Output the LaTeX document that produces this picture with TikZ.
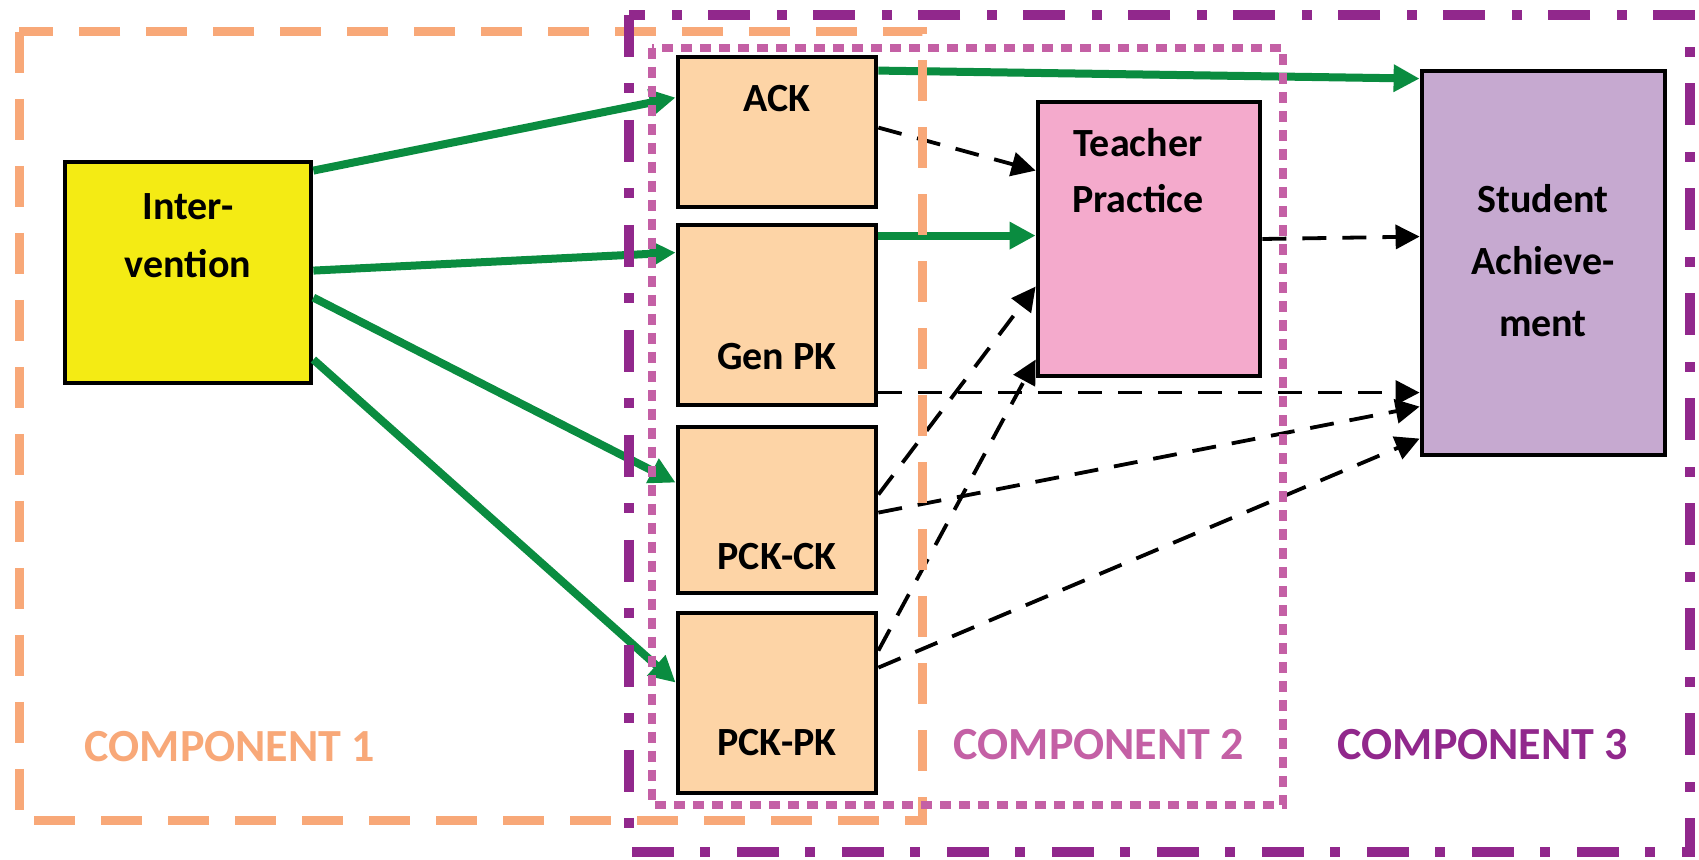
\documentclass[tikz,border=0pt]{standalone}
\usepackage{fontspec}
\setmainfont{Carlito}
\usetikzlibrary{arrows.meta,calc}

\definecolor{orangeC}{RGB}{248,168,120}
\definecolor{purpleC}{RGB}{145,40,140}
\definecolor{pinkC}{RGB}{196,96,165}
\definecolor{yellowC}{RGB}{244,235,20}
\definecolor{peachC}{RGB}{253,212,166}
\definecolor{tpC}{RGB}{244,170,204}
\definecolor{saC}{RGB}{198,169,208}
\definecolor{greenC}{RGB}{10,140,64}

\begin{document}
\begin{tikzpicture}[x=0.5pt,y=-0.5pt,
  box/.style={draw=black, line width=2.4pt, inner sep=0pt, rectangle},
  txt/.style={font=\fontsize{20}{24}\selectfont\bfseries, anchor=base, inner sep=0pt},
  comp/.style={font=\fontsize{23}{27}\selectfont\bfseries, anchor=base, inner sep=0pt},
  greenarrow/.style={draw=greenC, line width=4pt, -{Triangle[length=13pt,width=13pt]}},
  dasharrow/.style={draw=black, line width=1.9pt, dash pattern=on 12pt off 8pt, -{Triangle[length=12pt,width=12pt]}},
  frameone/.style={draw=orangeC, line width=4.5pt, dash pattern=on 20.5pt off 13pt},
  frametwo/.style={draw=pinkC, line width=4pt, dash pattern=on 5.5pt off 4pt},
  framethree/.style={draw=purpleC, line width=5pt, dash pattern=on 21pt off 13pt on 5pt off 13.5pt},
]
\useasboundingbox (0,0) rectangle (1699,860);
\fill[white] (0,0) rectangle (1699,860);

% boxes
\node[box, fill=yellowC, minimum width=123pt, minimum height=110.5pt] (int) at (188,272.5) {};
\node[box, fill=peachC, minimum width=99pt, minimum height=75pt] (ack) at (777,132) {};
\node[box, fill=peachC, minimum width=99pt, minimum height=90pt] (gen) at (777,315) {};
\node[box, fill=peachC, minimum width=99pt, minimum height=83pt] (pckck) at (777,510) {};
\node[box, fill=peachC, minimum width=99pt, minimum height=90pt] (pckpk) at (777,703) {};
\node[box, fill=tpC, minimum width=111pt, minimum height=137pt] (tp) at (1149,239) {};
\node[box, fill=saC, minimum width=121.5pt, minimum height=192pt] (sa) at (1543.5,263) {};

% box labels
\node[txt] (intA) at (188,220) {Inter-};
\node[txt] (intB) at (188,278) {vention};
\node[txt] (ackA) at (777,112) {ACK};
\node[txt] (genA) at (777,370) {Gen PK};
\node[txt] (pckckA) at (777,570) {PCK-CK};
\node[txt] (pckpkA) at (777,756) {PCK-PK};
\node[txt] (tpA) at (1138,157) {Teacher};
\node[txt] (tpB) at (1138,213) {Practice};
\node[txt] (saA) at (1543,213) {Student};
\node[txt] (saB) at (1543,275) {Achieve-};
\node[txt] (saC) at (1543,337) {ment};

% intervention effects
\draw[greenarrow] ($(int.north east)+(0,11)$) -- ($(ack.north west)+(0,43)$);
\draw[greenarrow] ($(int.north east)+(0,111)$) -- ($(gen.north west)+(0,30)$);
\draw[greenarrow] ($(int.north east)+(0,138)$) -- ($(pckck.north west)+(0,58)$);
\draw[greenarrow] ($(int.north east)+(0,200)$) -- ($(pckpk.north west)+(0,72)$);

% knowledge to practice and achievement
\draw[greenarrow] ($(ack.north east)+(0,16)$) -- ($(sa.north west)+(0,10)$);
\draw[dasharrow] ($(ack.north east)+(0,73)$) -- ($(tp.north west)+(0,71)$);
\draw[greenarrow] ($(gen.north east)+(0,13)$) -- ($(tp.north west)+(0,136)$);
\draw[dasharrow] (tp.east) -- ($(sa.north west)+(0,168)$);
\draw[dasharrow] ($(gen.north east)+(0,170)$) -- ($(sa.north west)+(0,324)$);
\draw[dasharrow] ($(pckck.north east)+(0,70)$) -- ($(tp.north west)+(0,187)$);
\draw[dasharrow] ($(pckck.north east)+(0,88)$) -- ($(sa.north west)+(0,338)$);
\draw[dasharrow] ($(pckpk.north east)+(0,40)$) -- ($(tp.north west)+(0,260)$);
\draw[dasharrow] ($(pckpk.north east)+(0,57)$) -- ($(sa.north west)+(0,370)$);

% component frames
\draw[frameone] (19,32) rectangle (922,821);
\draw[framethree] (629,15) rectangle (1690,852);
\draw[frametwo] (652,48) rectangle (1283,805);

% component labels
\node[comp, text=orangeC] (compone) at (230,762) {COMPONENT 1};
\node[comp, text=pinkC] (comptwo) at (1099,760) {COMPONENT 2};
\node[comp, text=purpleC] (compthree) at (1483,760) {COMPONENT 3};
\end{tikzpicture}
\end{document}
